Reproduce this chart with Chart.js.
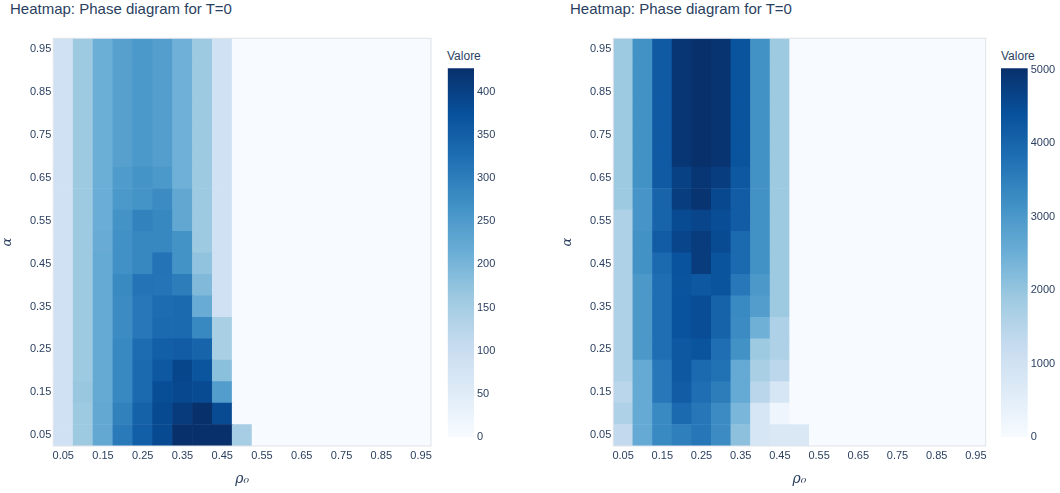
<!DOCTYPE html>
<html>
<head>
<meta charset="utf-8">
<script src="https://cdn.jsdelivr.net/npm/chart.js@4.4.1/dist/chart.umd.min.js"></script>
<style>
  body { margin: 0; background: #fff; width: 1060px; height: 493px; position: relative; overflow: hidden;
         font-family: "Liberation Sans", Arial, sans-serif; color: #2a3f5f; }
  canvas { position: absolute; top: 0; }
  .title { position: absolute; top: 0; font-size: 15px; line-height: 17px; white-space: nowrap; }
  .cbtitle { position: absolute; top: 49px; font-size: 12px; line-height: 14px; }
</style>
</head>
<body>
<div class="title" style="left:10px">Heatmap: Phase diagram for T=0</div>
<div class="title" style="left:570px">Heatmap: Phase diagram for T=0</div>
<div class="cbtitle" style="left:447px">Valore</div>
<div class="cbtitle" style="left:1001px">Valore</div>
<canvas id="heatL" width="440" height="493" style="left:0"></canvas>
<canvas id="cbL" width="100" height="493" style="left:440px"></canvas>
<canvas id="heatR" width="430" height="493" style="left:560px"></canvas>
<canvas id="cbR" width="70" height="493" style="left:990px"></canvas>
<script>
// x categories (rho_0) and rows (alpha)
var rho = ['0.05','0.10','0.15','0.20','0.25','0.30','0.35','0.40','0.45','0.50',
           '0.55','0.60','0.65','0.70','0.75','0.80','0.85','0.90','0.95'];
var alpha = [0.05,0.10,0.15,0.20,0.25,0.30,0.35,0.40,0.45,0.50,
             0.55,0.60,0.65,0.70,0.75,0.80,0.85,0.90,0.95];
var xTickLabels = ['0.05','0.15','0.25','0.35','0.45','0.55','0.65','0.75','0.85','0.95'];
var yTickValues = [0.05,0.15,0.25,0.35,0.45,0.55,0.65,0.75,0.85,0.95];
var cbTicksLeft = [0,50,100,150,200,250,300,350,400];
var cbTicksRight = [0,1000,2000,3000,4000,5000];
var zmaxLeft = 427;
var zmaxRight = 5016;

// left heatmap, one row per alpha (bottom row first)
var zLeft = [
  [87,160,225,305,350,385,427,427,427,150,0,0,0,0,0,0,0,0,0],
  [87,160,225,295,345,385,410,427,383,0,0,0,0,0,0,0,0,0,0],
  [87,165,222,283,333,379,388,383,245,0,0,0,0,0,0,0,0,0,0],
  [87,160,222,283,333,362,391,367,180,0,0,0,0,0,0,0,0,0,0],
  [87,160,221,283,328,350,355,342,145,0,0,0,0,0,0,0,0,0,0],
  [87,160,221,277,309,333,333,283,145,0,0,0,0,0,0,0,0,0,0],
  [87,160,221,277,309,328,333,217,87,0,0,0,0,0,0,0,0,0,0],
  [87,160,221,280,317,315,301,192,87,0,0,0,0,0,0,0,0,0,0],
  [87,160,221,268,285,317,265,173,87,0,0,0,0,0,0,0,0,0,0],
  [87,160,218,268,285,285,265,160,87,0,0,0,0,0,0,0,0,0,0],
  [87,160,215,265,293,285,227,160,87,0,0,0,0,0,0,0,0,0,0],
  [87,160,215,255,263,277,227,160,87,0,0,0,0,0,0,0,0,0,0],
  [87,160,213,250,263,255,210,160,87,0,0,0,0,0,0,0,0,0,0],
  [87,160,213,240,255,244,210,160,87,0,0,0,0,0,0,0,0,0,0],
  [87,160,213,240,255,244,210,160,87,0,0,0,0,0,0,0,0,0,0],
  [87,160,213,240,255,244,210,160,87,0,0,0,0,0,0,0,0,0,0],
  [87,160,213,240,255,244,210,160,87,0,0,0,0,0,0,0,0,0,0],
  [87,160,213,240,255,244,210,160,87,0,0,0,0,0,0,0,0,0,0],
  [87,160,213,240,255,244,210,160,87,0,0,0,0,0,0,0,0,0,0]
];

// right heatmap
var zRight = [
  [1300,2600,3300,3500,3650,3250,2100,830,740,740,0,0,0,0,0,0,0,0,0],
  [1610,2600,3300,3915,3650,3250,2330,830,235,0,0,0,0,0,0,0,0,0,0],
  [1450,2600,3625,4165,3820,3540,2600,1450,830,0,0,0,0,0,0,0,0,0,0],
  [1610,2600,3625,4260,3915,3760,2600,1710,1410,0,0,0,0,0,0,0,0,0,0],
  [1610,3000,3820,4260,4330,3820,3135,1880,1610,0,0,0,0,0,0,0,0,0,0],
  [1610,3000,3820,4375,4460,4040,3250,2460,1610,0,0,0,0,0,0,0,0,0,0],
  [1610,3000,3820,4375,4460,4040,3300,2890,1880,0,0,0,0,0,0,0,0,0,0],
  [1610,3000,3820,4330,4260,4330,3625,3000,1880,0,0,0,0,0,0,0,0,0,0],
  [1610,3135,3915,4375,4790,4330,3915,3135,1880,0,0,0,0,0,0,0,0,0,0],
  [1610,3135,4165,4620,4790,4505,3915,3135,1880,0,0,0,0,0,0,0,0,0,0],
  [1610,3060,4015,4505,4620,4460,4165,3135,1880,0,0,0,0,0,0,0,0,0,0],
  [1880,3060,4015,4750,4940,4565,4165,3135,1880,0,0,0,0,0,0,0,0,0,0],
  [1880,3135,4210,4695,4915,4750,4260,3135,1880,0,0,0,0,0,0,0,0,0,0],
  [1880,3135,4210,4915,5016,4940,4330,3135,1880,0,0,0,0,0,0,0,0,0,0],
  [1880,3135,4210,4915,5016,4940,4330,3135,1880,0,0,0,0,0,0,0,0,0,0],
  [1880,3135,4210,4915,5016,4940,4330,3135,1880,0,0,0,0,0,0,0,0,0,0],
  [1880,3135,4210,4915,5016,4940,4330,3135,1880,0,0,0,0,0,0,0,0,0,0],
  [1880,3135,4210,4915,5016,4940,4330,3135,1880,0,0,0,0,0,0,0,0,0,0],
  [1880,3135,4210,4915,5016,4940,4330,3135,1880,0,0,0,0,0,0,0,0,0,0]
];

// plotly "Blues" (colorbrewer)
var BLUES = [[247,251,255],[222,235,247],[198,219,239],[158,202,225],[107,174,214],
             [66,146,198],[33,113,181],[8,81,156],[8,48,107]];

function blues(t) {
  t = Math.max(0, Math.min(1, t));
  var p = t * 8, i = Math.min(7, Math.floor(p)), f = p - i;
  var a = BLUES[i], b = BLUES[i + 1];
  return 'rgb(' + [0,1,2].map(function(k) { return Math.round(a[k] + (b[k] - a[k]) * f); }).join(',') + ')';
}

Chart.defaults.font.family = '"Liberation Sans", Arial, sans-serif';
Chart.defaults.color = '#2a3f5f';

var frame = {
  id: 'frame',
  afterDraw: function(chart) {
    var a = chart.chartArea, c = chart.ctx;
    c.save();
    c.strokeStyle = '#dfe3ea';
    c.lineWidth = 1;
    c.strokeRect(a.left, a.top, a.right - a.left, a.bottom - a.top);
    c.restore();
  }
};

function heatmap(id, z, zmax, padRight) {
  var half = (alpha[1] - alpha[0]) / 2;
  var datasets = alpha.map(function(a, r) {
    return {
      data: rho.map(function() { return [a - half, a + half]; }),
      backgroundColor: z[r].map(function(v) { return blues(v / zmax); }),
      grouped: false,
      barPercentage: 1,
      categoryPercentage: 1,
      borderWidth: 0
    };
  });
  return new Chart(document.getElementById(id), {
    type: 'bar',
    data: { labels: rho, datasets: datasets },
    plugins: [frame],
    options: {
      responsive: false,
      animation: false,
      layout: { padding: { top: 38.3, right: padRight, left: 0, bottom: 0 } },
      plugins: { legend: { display: false }, tooltip: { enabled: false } },
      scales: {
        x: {
          type: 'category',
          grid: { display: false, drawTicks: false },
          border: { display: false },
          afterFit: function(s) { s.height = 47; },
          ticks: {
            autoSkip: false, maxRotation: 0, padding: 3,
            font: { size: 11 },
            callback: function(v) {
              var l = this.getLabelForValue(v);
              return xTickLabels.indexOf(l) >= 0 ? l : '';
            }
          },
          title: {
            display: true, text: 'ρ₀',
            font: { family: '"DejaVu Serif", serif', style: 'italic', size: 14 },
            padding: { top: 0, bottom: 5 }
          }
        },
        y: {
          type: 'linear',
          min: alpha[0] - half,
          max: alpha[alpha.length - 1] + half,
          grid: { display: false, drawTicks: false },
          border: { display: false },
          afterFit: function(s) { s.width = 53.3; },
          afterBuildTicks: function(s) {
            s.ticks = yTickValues.map(function(v) { return { value: v }; });
          },
          ticks: {
            padding: 2,
            font: { size: 11 },
            callback: function(v) { return v.toFixed(2); }
          },
          title: {
            display: true, text: 'α',
            font: { family: '"DejaVu Serif", serif', style: 'italic', size: 13 },
            padding: 0
          }
        }
      }
    }
  });
}

function colorbar(id, zmax, ticks, padLeft, axisWidth) {
  return new Chart(document.getElementById(id), {
    type: 'bar',
    data: {
      labels: [''],
      datasets: [{
        data: [[0, zmax]],
        barPercentage: 1,
        categoryPercentage: 1,
        borderWidth: 0,
        backgroundColor: function(ctx) {
          var a = ctx.chart.chartArea;
          if (!a) return null;
          var g = ctx.chart.ctx.createLinearGradient(0, a.bottom, 0, a.top);
          BLUES.forEach(function(c, i) { g.addColorStop(i / 8, 'rgb(' + c.join(',') + ')'); });
          return g;
        }
      }]
    },
    options: {
      responsive: false,
      animation: false,
      layout: { padding: { left: padLeft, top: 68.3, bottom: 56, right: 0 } },
      plugins: { legend: { display: false }, tooltip: { enabled: false } },
      scales: {
        x: { display: false },
        y: {
          position: 'right',
          min: 0,
          max: zmax,
          grid: { display: false, drawTicks: false },
          border: { display: false },
          afterFit: function(s) { s.width = axisWidth; },
          afterBuildTicks: function(s) {
            s.ticks = ticks.map(function(v) { return { value: v }; });
          },
          ticks: {
            padding: 3,
            font: { size: 11 },
            callback: function(v) { return String(v); }
          }
        }
      }
    }
  });
}

heatmap('heatL', zLeft, zmaxLeft, 9);
heatmap('heatR', zRight, zmaxRight, 4.3);
colorbar('cbL', zmaxLeft, cbTicksLeft, 7.7, 66);
colorbar('cbR', zmaxRight, cbTicksRight, 11, 32.3);
</script>
</body>
</html>
